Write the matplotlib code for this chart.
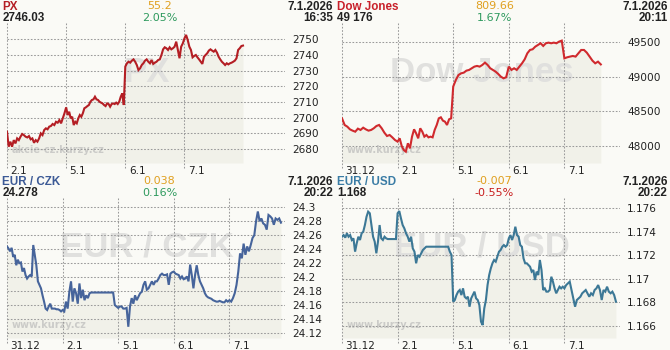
import numpy as np
import matplotlib
matplotlib.use("Agg")
import matplotlib.pyplot as plt
from matplotlib import font_manager

# ---- values (one list per trading day) ----
px_days = ["2.1", "5.1", "6.1", "7.1"]
px_d1 = [2691.1, 2681.5, 2684.7, 2681.5, 2685.7, 2683.6, 2686.8, 2685.7, 2687.9, 2689.6, 2688.9, 2687.9,
         2687.4, 2688.3, 2686.2, 2686.8, 2684.0, 2685.7, 2684.7, 2686.8, 2690.0, 2688.9, 2692.1, 2693.2,
         2692.6, 2694.3, 2694.7, 2696.0, 2695.3, 2697.4, 2696.8, 2698.5, 2696.4, 2699.6, 2702.8]
px_d2 = [2706.6, 2701.7, 2703.8, 2699.6, 2700.6, 2695.3, 2697.4, 2696.4, 2699.6, 2701.7, 2700.6, 2702.8,
         2706.0, 2706.6, 2707.4, 2708.1, 2710.2, 2711.3, 2711.7, 2713.4, 2711.7, 2711.3, 2710.2, 2709.6,
         2709.1, 2708.1, 2707.4, 2709.1, 2708.7, 2707.0, 2708.7, 2709.1, 2708.7, 2709.6, 2708.7, 2710.2,
         2713.4, 2715.5, 2708.1]
px_d3 = [2732.6, 2734.7, 2735.7, 2735.1, 2736.4, 2737.2, 2735.7, 2733.6, 2730.4, 2731.5, 2733.6, 2734.7,
         2736.4, 2737.2, 2735.7, 2734.7, 2736.8, 2734.3, 2735.1, 2735.7, 2736.8, 2737.2, 2740.0, 2743.6,
         2744.9, 2744.3, 2743.2, 2744.9, 2743.6, 2744.3, 2745.3, 2748.5, 2743.2, 2737.9, 2745.3, 2747.4]
px_d4 = [2750.6, 2752.8, 2749.6, 2745.3, 2743.2, 2738.5, 2739.4, 2740.0, 2738.5, 2737.2, 2735.7, 2734.3,
         2738.9, 2740.0, 2741.1, 2742.8, 2743.6, 2742.8, 2742.1, 2743.2, 2741.5, 2738.9, 2737.2, 2735.7,
         2734.7, 2733.6, 2734.7, 2734.0, 2734.7, 2735.1, 2735.7, 2736.4, 2737.9, 2743.2, 2744.3, 2745.7,
         2746.0]

dow_days = ["31.12", "2.1", "5.1", "6.1", "7.1"]
dow_d1 = [48400, 48304, 48280, 48241, 48222, 48207, 48251, 48232, 48265, 48241, 48222, 48232, 48256,
          48289, 48304, 48256, 48193, 48145, 48159, 48125, 48087]
dow_d2 = [48063, 48111, 48000, 47942, 47918, 48039, 47966, 48135, 48241, 48183, 48111, 48256, 48207,
          48135, 48159, 48125, 48135, 48125, 48232, 48304, 48400, 48415, 48367, 48352, 48304, 48386, 48400]
dow_d3 = [48859, 48955, 49027, 49051, 49061, 49090, 49100, 49124, 49148, 49158, 49148, 49172, 49206,
          49172, 49124, 49100, 49076, 49042, 49003, 48979, 48994]
dow_d4 = [49148, 49100, 49124, 49100, 49148, 49196, 49254, 49341, 49389, 49399, 49437, 49461, 49486,
          49447, 49486, 49495, 49486, 49495, 49486, 49510, 49524]
dow_d5 = [49268, 49283, 49293, 49302, 49293, 49341, 49389, 49389, 49350, 49293, 49235, 49196, 49220, 49180]

fx_days = ["31.12", "2.1", "5.1", "6.1", "7.1"]
czk_d1 = [24.244, 24.241, 24.237, 24.242, 24.229, 24.232, 24.217, 24.225, 24.220, 24.221, 24.208, 24.213,
          24.203, 24.198, 24.201, 24.203, 24.201, 24.246, 24.232, 24.217, 24.194, 24.189, 24.184, 24.174,
          24.165, 24.155, 24.153, 24.158, 24.162, 24.155, 24.155, 24.155, 24.154, 24.154, 24.153, 24.151]
czk_d2 = [24.153, 24.151, 24.165, 24.155, 24.179, 24.194, 24.165, 24.184, 24.177, 24.162, 24.191, 24.170,
          24.182, 24.167, 24.174, 24.170, 24.177, 24.178, 24.178, 24.178, 24.178, 24.178, 24.178, 24.178,
          24.178, 24.178, 24.178, 24.178, 24.178, 24.178, 24.178, 24.160, 24.158]
czk_d3 = [24.156, 24.158, 24.158, 24.155, 24.155, 24.156, 24.129, 24.158, 24.170, 24.162, 24.174, 24.167,
          24.172, 24.177, 24.179, 24.189, 24.194, 24.182, 24.184, 24.189, 24.194, 24.189, 24.194, 24.194,
          24.198, 24.203, 24.205, 24.203, 24.203, 24.204, 24.189, 24.205, 24.207]
czk_d4 = [24.208, 24.205, 24.204, 24.203, 24.198, 24.201, 24.197, 24.198, 24.201, 24.194, 24.218, 24.203,
          24.184, 24.203, 24.217, 24.203, 24.194, 24.189, 24.184, 24.177, 24.173, 24.171, 24.170, 24.169,
          24.167, 24.166, 24.165, 24.165, 24.166, 24.165, 24.164, 24.164, 24.167, 24.165]
czk_d5 = [24.167, 24.165, 24.170, 24.177, 24.189, 24.208, 24.234, 24.227, 24.248, 24.232, 24.244, 24.237,
          24.246, 24.256, 24.260, 24.280, 24.294, 24.280, 24.284, 24.277, 24.275, 24.268, 24.289, 24.287,
          24.284, 24.275, 24.284, 24.282, 24.284, 24.278]

usd_d1 = [1.17359, 1.17373, 1.17351, 1.17388, 1.17359, 1.17373, 1.17331, 1.17345, 1.17232, 1.17303,
          1.17359, 1.17331, 1.17388, 1.17402, 1.17458, 1.17529, 1.17572, 1.17558, 1.17458, 1.17359,
          1.17317, 1.17218, 1.17317, 1.17458, 1.17345, 1.17331, 1.17359, 1.17345, 1.17339, 1.17339,
          1.17339, 1.17339, 1.17339, 1.17339]
usd_d2 = [1.17558, 1.17577, 1.17515, 1.17458, 1.17430, 1.17388, 1.17359, 1.17317, 1.17359, 1.17260,
          1.17232, 1.17133, 1.17203, 1.17189, 1.17218, 1.17246, 1.17260, 1.17274, 1.17274, 1.17274,
          1.17274, 1.17274, 1.17274, 1.17274, 1.17274, 1.17274, 1.17274, 1.17274, 1.17274, 1.17274,
          1.17274, 1.17232, 1.17203]
usd_d3 = [1.16807, 1.16821, 1.16863, 1.16892, 1.16906, 1.16863, 1.16920, 1.16849, 1.16835, 1.16849,
          1.16764, 1.16835, 1.16863, 1.16892, 1.16835, 1.16821, 1.16778, 1.16637, 1.16608, 1.16750,
          1.16821, 1.16948, 1.17033, 1.17090, 1.17133, 1.17161, 1.17147, 1.17189, 1.17232, 1.17246,
          1.17274, 1.17288, 1.17274, 1.17288]
usd_d4 = [1.17345, 1.17373, 1.17331, 1.17373, 1.17444, 1.17373, 1.17359, 1.17288, 1.17274, 1.17175,
          1.17133, 1.17133, 1.17118, 1.17104, 1.17062, 1.17076, 1.16991, 1.17062, 1.17033, 1.17161,
          1.17076, 1.16906, 1.16920, 1.16892, 1.16892, 1.16906, 1.17019, 1.16977, 1.16920, 1.16878,
          1.16906, 1.16934, 1.16920, 1.16934]
usd_d5 = [1.16920, 1.16948, 1.16963, 1.16977, 1.16906, 1.16835, 1.16764, 1.16821, 1.16835, 1.16849,
          1.16878, 1.16892, 1.16906, 1.16878, 1.16849, 1.16878, 1.16863, 1.16906, 1.16920, 1.16948,
          1.16906, 1.16821, 1.16906, 1.16892, 1.16934, 1.16892, 1.16878, 1.16892, 1.16863, 1.16807]

titles = ["PX", "Dow Jones", "EUR / CZK", "EUR / USD"]
last_values = ["2746.03", "49 176", "24.278", "1.168"]
changes = ["55.2", "809.66", "0.038", "-0.007"]
pct_changes = ["2.05%", "1.67%", "0.16%", "-0.55%"]
dates = ["7.1.2026", "7.1.2026", "7.1.2026", "7.1.2026"]
times = ["16:35", "20:11", "20:22", "20:22"]
sites = ["akcie-cz.kurzy.cz", "www.kurzy.cz", "www.kurzy.cz", "www.kurzy.cz"]

px_ticks = [2680, 2690, 2700, 2710, 2720, 2730, 2740, 2750]
dow_ticks = [48000, 48500, 49000, 49500]
czk_ticks = [24.12, 24.14, 24.16, 24.18, 24.2, 24.22, 24.24, 24.26, 24.28, 24.3]
usd_ticks = [1.166, 1.168, 1.17, 1.172, 1.174, 1.176]

W, H = 670, 350
BG = "#fafaf6"
FILL = "#f1f1e9"
GRID = "#9a9a9a"
DARK = "#222222"
GOLD = "#e0a020"
GREEN = "#2e9a5e"
RED = "#c81e1e"

names = {f.name for f in font_manager.fontManager.ttflist}
if "Liberation Sans Narrow" in names:
    wm_family, wm_size = "Liberation Sans Narrow", 30
else:
    wm_family, wm_size = "Liberation Sans", 25

fig = plt.figure(figsize=(W / 100, H / 100), dpi=100, facecolor=BG)


def ftext(x, y, s, **kw):
    fig.text(x / W, 1 - y / H, s, **kw)


def draw_panel(i, ox, oy, day_lists, day_labels, end_frac, n_slots, ylim, yticks,
               line_color, title_color):
    ax = fig.add_axes([(ox + 7) / W, 1 - (oy + 163) / H, 278 / W, 140 / H])
    ax.set_facecolor("none")
    for s in ax.spines.values():
        s.set_visible(False)

    xs, ys = [], []
    for k, vals in enumerate(day_lists):
        n = len(vals)
        if k == len(day_lists) - 1:
            xs.append(k + np.arange(n) / (n - 1) * end_frac)
        else:
            xs.append(k + np.arange(n) / n)
        ys.append(np.array(vals, dtype=float))
    x = np.concatenate(xs)
    y = np.concatenate(ys)

    ax.set_xlim(0, n_slots)
    ax.set_ylim(*ylim)
    ax.fill_between(x, y, ylim[0], color=FILL, lw=0, zorder=1)

    ax.text(0.504, 0.65, titles[i], transform=ax.transAxes, ha="center", va="center",
            family=wm_family, fontweight="bold", fontsize=wm_size, color="#e0e0de", zorder=1.5)
    ax.text(5 / 278, 13 / 140, sites[i], transform=ax.transAxes, ha="left", va="center",
            family="DejaVu Sans", fontweight="bold", fontsize=7, color="#cbcbc8", zorder=1.6)

    for t in yticks:
        ax.axhline(t, color=GRID, lw=0.75, ls=(0, (1.6, 1.6)), zorder=2)
    days = np.arange(len(day_labels))
    ax.vlines(days, -5 / 140, 1, transform=ax.get_xaxis_transform(), clip_on=False,
              color=GRID, lw=0.75, linestyles=[(0, (1.6, 1.6))], zorder=2)
    for d, lab in zip(days, day_labels):
        ax.annotate(lab, xy=(d, 0), xycoords=("data", "axes fraction"), xytext=(3.5, -11),
                    textcoords="offset pixels", ha="left", va="baseline",
                    fontsize=7.5, color=DARK, family="DejaVu Sans")

    ax.plot(x, y, color=line_color, lw=1.5, zorder=3, solid_joinstyle="miter")

    ax.set_xticks([])
    ax.yaxis.tick_right()
    ax.set_yticks(yticks)
    ax.set_yticklabels(["%g" % t for t in yticks])
    ax.tick_params(axis="y", length=0, pad=5, labelsize=7.6, labelcolor=DARK)

    # header
    hb = dict(family="Liberation Sans", fontweight="bold", fontsize=8.4, va="baseline")
    ftext(ox + 2.5, oy + 9.6, titles[i], ha="left", color=title_color, **hb)
    ftext(ox + 2.5, oy + 20.6, last_values[i], ha="left", color=DARK, **hb)
    ftext(ox + 333, oy + 9.6, dates[i], ha="right", color=DARK, **hb)
    ftext(ox + 333, oy + 20.6, times[i], ha="right", color=DARK, **hb)
    hc = dict(family="DejaVu Sans", fontsize=8, va="baseline", ha="center")
    pct_color = RED if pct_changes[i].startswith("-") else GREEN
    ftext(ox + 159.5, oy + 9.4, changes[i], color=GOLD, **hc)
    ftext(ox + 159.5, oy + 20.8, pct_changes[i], color=pct_color, **hc)
    return ax


draw_panel(0, 0, 0, [px_d1, px_d2, px_d3, px_d4], px_days, 0.99, 4.7,
           (2671.1, 2760.4), px_ticks, "#b41e24", "#b41e24")
draw_panel(1, 335, 0, [dow_d1, dow_d2, dow_d3, dow_d4, dow_d5], dow_days, 0.655, 5,
           (47754, 49779), dow_ticks, "#d02a2e", "#c8202a")
draw_panel(2, 0, 175, [czk_d1, czk_d2, czk_d3, czk_d4, czk_d5], fx_days, 0.927, 5,
           (24.1129, 24.3133), czk_ticks, "#46649b", "#3c5a96")
draw_panel(3, 335, 175, [usd_d1, usd_d2, usd_d3, usd_d4, usd_d5], fx_days, 0.927, 5,
           (1.16498, 1.17688), usd_ticks, "#3c7896", "#3a7ca5")

fig.savefig("out.png", dpi=100, facecolor=BG)
